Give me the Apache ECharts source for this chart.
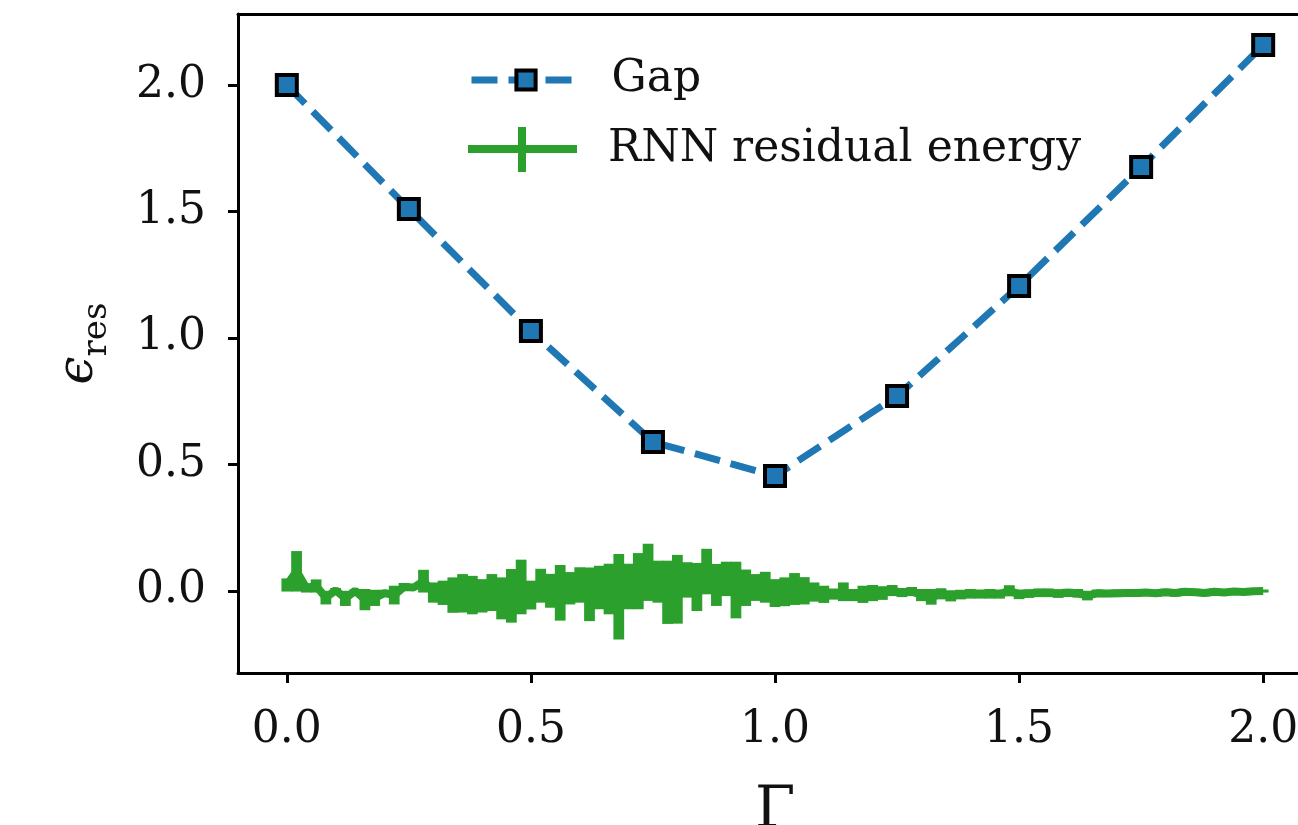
<!DOCTYPE html>
<html>
<head>
<meta charset="utf-8">
<script src="https://cdn.jsdelivr.net/npm/echarts@6/dist/echarts.min.js"></script>
<style>
  html, body { margin: 0; padding: 0; background: #ffffff; }
  #chart { width: 1298px; height: 825px; }
</style>
</head>
<body>
<div id="chart"></div>
<script>
// Energy gap at the sampled transverse fields
const gapGamma  = [0.00, 0.25, 0.50, 0.75, 1.00, 1.25, 1.50, 1.75, 2.00];
const gapValues = [2.000, 1.510, 1.028, 0.589, 0.455, 0.771, 1.206, 1.676, 2.158];

// RNN residual energy: field grid, mean and error bar half-width
const gammaGrid = [
  0.00, 0.02, 0.04, 0.06, 0.08, 0.10, 0.12, 0.14, 0.16, 0.18,
  0.20, 0.22, 0.24, 0.26, 0.28, 0.30, 0.32, 0.34, 0.36, 0.38,
  0.40, 0.42, 0.44, 0.46, 0.48, 0.50, 0.52, 0.54, 0.56, 0.58,
  0.60, 0.62, 0.64, 0.66, 0.68, 0.70, 0.72, 0.74, 0.76, 0.78,
  0.80, 0.82, 0.84, 0.86, 0.88, 0.90, 0.92, 0.94, 0.96, 0.98,
  1.00, 1.02, 1.04, 1.06, 1.08, 1.10, 1.12, 1.14, 1.16, 1.18,
  1.20, 1.22, 1.24, 1.26, 1.28, 1.30, 1.32, 1.34, 1.36, 1.38,
  1.40, 1.42, 1.44, 1.46, 1.48, 1.50, 1.52, 1.54, 1.56, 1.58,
  1.60, 1.62, 1.64, 1.66, 1.68, 1.70, 1.72, 1.74, 1.76, 1.78,
  1.80, 1.82, 1.84, 1.86, 1.88, 1.90, 1.92, 1.94, 1.96, 1.98,
  2.00
];
const rnnMean = [
  0.024, 0.078, 0.012, 0.020, -0.026, 0.003, -0.029, 0.001, -0.034, -0.027,
  -0.008, -0.016, 0.016, 0.014, 0.039, -0.006, -0.007, -0.016, -0.009, -0.016,
  -0.019, -0.006, -0.029, -0.019, 0.016, -0.016, 0.021, 0.001, -0.007, 0.011,
  0.024, -0.013, 0.014, 0.008, -0.023, 0.018, 0.039, 0.074, 0.037, -0.005,
  0.007, 0.044, 0.016, 0.077, 0.024, 0.048, 0.004, 0.013, 0.014, 0.015,
  -0.008, -0.003, 0.008, 0.001, -0.004, -0.013, -0.012, -0.003, -0.016, -0.013,
  -0.008, -0.008, 0.002, -0.006, -0.002, -0.016, -0.023, -0.011, -0.019, -0.014,
  -0.011, -0.012, -0.011, -0.012, 0.001, -0.013, -0.010, -0.007, -0.007, -0.010,
  -0.007, -0.009, -0.018, -0.009, -0.010, -0.009, -0.008, -0.008, -0.006, -0.009,
  -0.005, -0.008, -0.003, -0.005, -0.008, -0.003, -0.006, -0.002, -0.004, -0.001,
  0.000
];
const rnnErr = [
  0.026, 0.080, 0.018, 0.026, 0.027, 0.009, 0.030, 0.007, 0.042, 0.032,
  0.013, 0.037, 0.016, 0.007, 0.045, 0.040, 0.048, 0.070, 0.076, 0.076,
  0.066, 0.073, 0.083, 0.106, 0.108, 0.057, 0.067, 0.067, 0.110, 0.064,
  0.070, 0.106, 0.086, 0.100, 0.169, 0.090, 0.111, 0.113, 0.083, 0.125,
  0.136, 0.070, 0.095, 0.090, 0.083, 0.068, 0.112, 0.072, 0.053, 0.061,
  0.055, 0.057, 0.063, 0.054, 0.038, 0.034, 0.022, 0.037, 0.024, 0.034,
  0.032, 0.027, 0.022, 0.018, 0.018, 0.024, 0.031, 0.022, 0.022, 0.019,
  0.019, 0.018, 0.019, 0.018, 0.022, 0.019, 0.017, 0.017, 0.017, 0.017,
  0.016, 0.017, 0.019, 0.015, 0.014, 0.015, 0.013, 0.015, 0.014, 0.014,
  0.014, 0.014, 0.014, 0.014, 0.013, 0.013, 0.013, 0.013, 0.012, 0.011,
  0.006
];

// Axis ticks
const xTicks = [0.0, 0.5, 1.0, 1.5, 2.0];
const yTicks = [0.0, 0.5, 1.0, 1.5, 2.0];

const BLUE = '#1f77b4';
const GREEN = '#2ca02c';
const SERIF = 'DejaVu Serif';
const INK = '#111111';

const chart = echarts.init(document.getElementById('chart'), null, { renderer: 'canvas' });

const gapData = gapGamma.map((g, i) => [g, gapValues[i]]);
const rnnLine = gammaGrid.map((g, i) => [g, rnnMean[i]]);
const rnnBars = gammaGrid.map((g, i) => [g, rnnMean[i], rnnErr[i]]);

const legendText = {
  fontFamily: SERIF,
  fontSize: 44,
  color: INK,
  rich: { t: { fontFamily: SERIF, fontSize: 44, color: INK, padding: [0, 0, 0, 26] } }
};

const frameLine = { show: true, onZero: false, lineStyle: { color: '#000000', width: 3 } };

chart.setOption({
  animation: false,
  backgroundColor: '#ffffff',
  grid: {
    left: 238, top: 14, width: 1074, bottom: 152,
    outerBoundsMode: 'none',
    containLabel: false,
    show: false
  },
  legend: [
    {
      data: ['Gap'],
      left: 463, top: 53,
      itemWidth: 109, itemHeight: 24,
      selectedMode: false,
      formatter: name => '{t|' + name + '}',
      textStyle: legendText,
      itemStyle: { color: BLUE, borderColor: '#000000', borderWidth: 4 },
      lineStyle: { color: BLUE, width: 7, type: [26, 11] }
    },
    {
      data: [{ name: 'RNN residual energy', icon: 'path://M0,18H109V26H0Z M50,0H58V45H50Z' }],
      left: 463, top: 122,
      itemWidth: 109, itemHeight: 45,
      selectedMode: false,
      formatter: name => '{t|' + name + '}',
      textStyle: legendText,
      itemStyle: { color: GREEN, borderWidth: 0 }
    }
  ],
  xAxis: [
    {
      type: 'value', min: -0.1, max: 2.1, position: 'bottom',
      axisLine: frameLine,
      axisTick: { show: true, length: 10, customValues: xTicks, lineStyle: { color: '#000000', width: 3 } },
      axisLabel: {
        customValues: xTicks, formatter: v => v.toFixed(1),
        fontFamily: SERIF, fontSize: 44, color: INK, margin: 36
      },
      splitLine: { show: false },
      name: 'Γ', nameLocation: 'middle', nameGap: 110,
      nameTextStyle: { fontFamily: SERIF, fontSize: 58, color: INK }
    },
    {
      // top edge of the frame
      type: 'value', min: -0.1, max: 2.1, position: 'top',
      axisLine: frameLine,
      axisTick: { show: false },
      axisLabel: { show: false },
      splitLine: { show: false }
    }
  ],
  yAxis: {
    type: 'value', min: -0.324, max: 2.281,
    axisLine: frameLine,
    axisTick: { show: true, length: 10, customValues: yTicks, lineStyle: { color: '#000000', width: 3 } },
    axisLabel: {
      customValues: yTicks, formatter: v => v.toFixed(1),
      fontFamily: SERIF, fontSize: 44, color: INK, margin: 32
    },
    splitLine: { show: false },
    name: '{e|ϵ}{s|res}', nameLocation: 'middle', nameGap: 124, nameRotate: 90,
    nameTextStyle: {
      rich: {
        e: { fontFamily: SERIF, fontStyle: 'italic', fontSize: 50, color: INK, lineHeight: 60, verticalAlign: 'top' },
        s: { fontFamily: SERIF, fontSize: 34, color: INK, lineHeight: 34, verticalAlign: 'bottom' }
      }
    }
  },
  series: [
    {
      name: 'RNN residual energy',
      type: 'custom',
      data: rnnBars,
      encode: { x: 0, y: 1 },
      z: 2,
      silent: true,
      renderItem: function (params, api) {
        const x = api.value(0), m = api.value(1), e = api.value(2);
        const top = api.coord([x, m + e]);
        const bot = api.coord([x, m - e]);
        const half = api.size([0.02, 0])[0] / 2 + 0.5;
        return {
          type: 'rect',
          shape: { x: top[0] - half, y: top[1], width: half * 2, height: Math.max(bot[1] - top[1], 0) },
          style: { fill: GREEN }
        };
      }
    },
    {
      name: 'RNN residual energy',
      type: 'line',
      data: rnnLine,
      symbol: 'none',
      z: 3,
      silent: true,
      itemStyle: { color: GREEN },
      lineStyle: { color: GREEN, width: 8 }
    },
    {
      name: 'Gap',
      type: 'line',
      data: gapData,
      symbol: 'rect',
      symbolSize: 20,
      z: 5,
      silent: true,
      itemStyle: { color: BLUE, borderColor: '#000000', borderWidth: 4 },
      lineStyle: { color: BLUE, width: 7, type: [26, 11] }
    }
  ]
});
</script>
</body>
</html>
